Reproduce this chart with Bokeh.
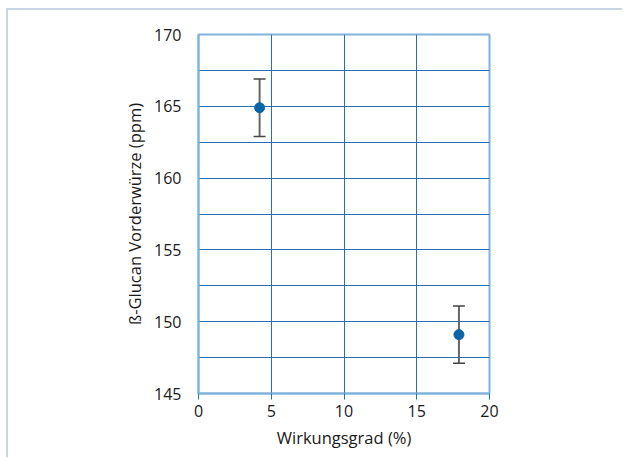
from bokeh.plotting import figure
from bokeh.models import Whisker, ColumnDataSource, FixedTicker, Range1d
from bokeh.embed import file_html
from bokeh.resources import INLINE

wirkungsgrad = [4.2, 17.9]
glucan = [164.9, 149.1]
err = [2.0, 2.0]
x_ticks = [0, 5, 10, 15, 20]
y_ticks = [145, 150, 155, 160, 165, 170]
y_grid = [145, 147.5, 150, 152.5, 155, 157.5, 160, 162.5, 165, 167.5, 170]

src = ColumnDataSource(dict(x=wirkungsgrad, y=glucan,
                            lo=[g - e for g, e in zip(glucan, err)],
                            hi=[g + e for g, e in zip(glucan, err)]))

p = figure(width=616, height=449, output_backend="svg", toolbar_location=None,
           x_range=Range1d(0, 20), y_range=Range1d(145, 170),
           min_border_left=190, min_border_right=135, min_border_top=24, min_border_bottom=66)
p.styles = {"border-left": "2px solid #c6d6e4", "border-top": "2px solid #c6d6e4",
            "margin-left": "6px", "margin-top": "8px"}
p.outline_line_color = "#7fb3db"
p.outline_line_width = 2

FONT = "Open Sans"
TXT = "#1a1a1a"
GRID = "#2670b2"

p.xaxis.ticker = FixedTicker(ticks=x_ticks)
p.yaxis.ticker = FixedTicker(ticks=y_ticks)
p.xgrid.ticker = FixedTicker(ticks=x_ticks)
p.ygrid.ticker = FixedTicker(ticks=y_grid)
p.xgrid.grid_line_color = GRID
p.ygrid.grid_line_color = GRID
p.xgrid.grid_line_width = 1
p.ygrid.grid_line_width = 1

for ax in (p.xaxis[0], p.yaxis[0]):
    ax.axis_line_color = "#7fb3db"
    ax.axis_line_width = 2
    ax.major_label_text_font = FONT
    ax.major_label_text_font_size = "16px"
    ax.major_label_text_color = TXT
    ax.axis_label_text_font = FONT
    ax.axis_label_text_font_size = "16.5px"
    ax.axis_label_text_font_style = "normal"
    ax.axis_label_text_color = TXT
    ax.minor_tick_line_color = None

p.xaxis.major_tick_line_color = GRID
p.xaxis.major_tick_out = 6
p.xaxis.major_tick_in = 0
p.yaxis.major_tick_line_color = None
p.xaxis.major_label_standoff = 5
p.yaxis.major_label_standoff = 11
p.xaxis.axis_label = "Wirkungsgrad (%)"
p.yaxis.axis_label = "ß-Glucan Vorderwürze (ppm)"
p.xaxis.axis_label_standoff = 6
p.yaxis.axis_label_standoff = 5

w = Whisker(source=src, base="x", lower="lo", upper="hi", dimension="height",
            line_color="#666666", line_width=2)
w.upper_head.size = 12
w.lower_head.size = 12
w.upper_head.line_color = "#444444"
w.lower_head.line_color = "#444444"
w.upper_head.line_width = 1.5
w.lower_head.line_width = 1.5
p.add_layout(w)
p.scatter("x", "y", source=src, size=10, color="#0a64a6")

open("out.html", "w").write(file_html(p, INLINE))
